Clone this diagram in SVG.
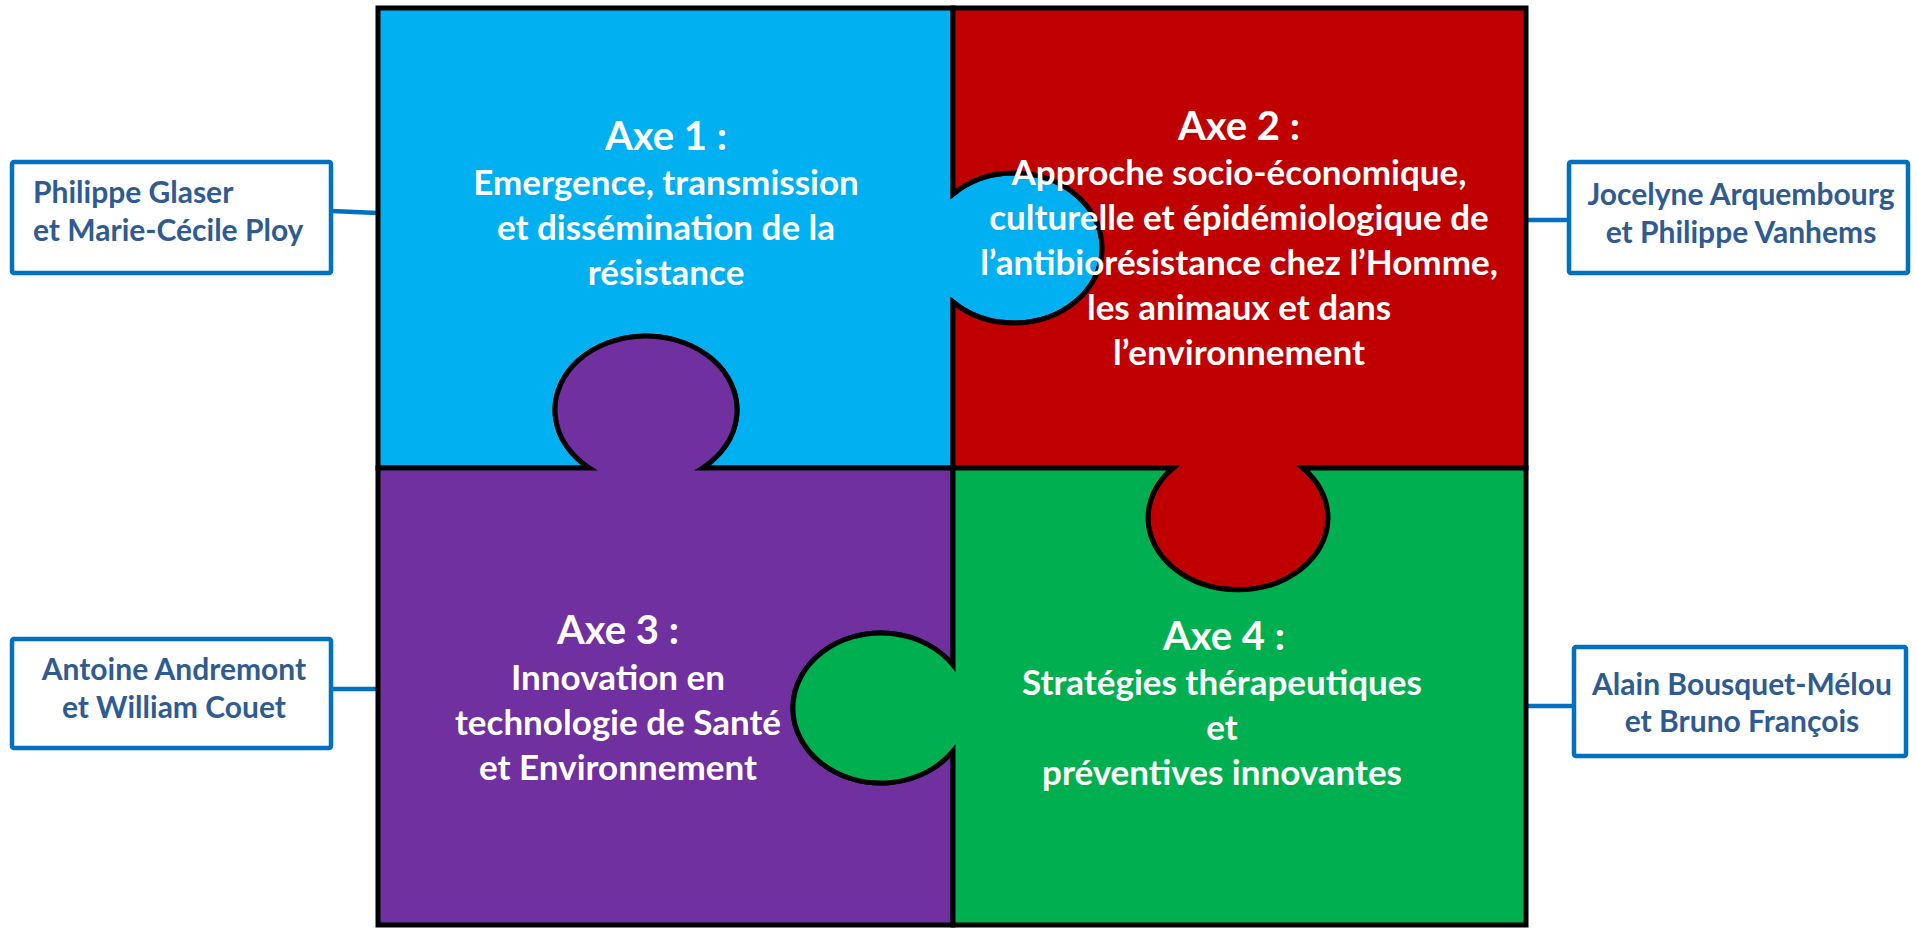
<svg xmlns="http://www.w3.org/2000/svg" width="1917" height="929" viewBox="0 0 1917 929">
<style>
.piece{stroke:#000;stroke-width:5;stroke-linejoin:miter}
.ax{font-family:Lato,"Liberation Sans",sans-serif;font-weight:bold;fill:#fff;text-anchor:middle}
.h{font-size:40px}
.b{font-size:35px}
.box{fill:#fff;stroke:#0070C0;stroke-width:4.5}
.nm{font-family:Lato,"Liberation Sans",sans-serif;font-weight:bold;font-size:30px;fill:#2F5B91}
.conn{stroke:#0070C0;stroke-width:4.5;fill:none}
</style>
<rect width="1917" height="929" fill="#fff"/>
<g id="connectors">
<line class="conn" x1="331" y1="211" x2="378" y2="213"/>
<line class="conn" x1="1526" y1="220" x2="1569" y2="220"/>
<line class="conn" x1="331" y1="689" x2="378" y2="689"/>
<line class="conn" x1="1526" y1="706" x2="1574" y2="706"/>
</g>
<g id="axe1">
<path class="piece" fill="#00B0F0" d="M378,8 H953 V194 A88,75 0 1 1 953,302 V468 H702.5 A91,74 0 1 0 589.5,468 H378 Z"/>
<text class="ax h" x="666" y="150">Axe 1 :</text>
<text class="ax b" x="666" y="195">Emergence, transmission</text>
<text class="ax b" x="666" y="240">et dissémination de la</text>
<text class="ax b" x="666" y="285">résistance</text>
</g>
<g id="axe2">
<path class="piece" fill="#C00000" d="M953,8 H1526 V468 H1303 A90,72 0 1 1 1173,468 H953 V302 A88,75 0 1 0 953,194 Z"/>
<text class="ax h" x="1239" y="140">Axe 2 :</text>
<text class="ax b" x="1239" y="185">Approche socio-économique,</text>
<text class="ax b" x="1239" y="230">culturelle et épidémiologique de</text>
<text class="ax b" x="1239" y="275">l’antibiorésistance chez l’Homme,</text>
<text class="ax b" x="1239" y="320">les animaux et dans</text>
<text class="ax b" x="1239" y="365">l’environnement</text>
</g>
<g id="axe3">
<path class="piece" fill="#7030A0" d="M378,468 H589.5 A91,74 0 1 1 702.5,468 H953 V665 A88,75 0 1 0 953,751 V925 H378 Z"/>
<text class="ax h" x="618" y="644">Axe 3 :</text>
<text class="ax b" x="618" y="690">Innovation en</text>
<text class="ax b" x="618" y="735">technologie de Santé</text>
<text class="ax b" x="618" y="780">et Environnement</text>
</g>
<g id="axe4">
<path class="piece" fill="#00B050" d="M953,468 H1173 A90,72 0 1 0 1303,468 H1526 V925 H953 V751 A88,75 0 1 1 953,665 Z"/>
<text class="ax h" x="1224" y="650">Axe 4 :</text>
<text class="ax b" x="1222" y="695">Stratégies thérapeutiques</text>
<text class="ax b" x="1222" y="740">et</text>
<text class="ax b" x="1222" y="785">préventives innovantes</text>
</g>
<g id="lead1">
<rect class="box" x="12" y="162" width="319" height="111" rx="2"/>
<text class="nm" x="33" y="203">Philippe Glaser</text>
<text class="nm" x="33" y="241">et Marie-Cécile Ploy</text>
</g>
<g id="lead2">
<rect class="box" x="1569" y="162" width="339" height="111" rx="2"/>
<text class="nm" x="1741" y="205" text-anchor="middle">Jocelyne Arquembourg</text>
<text class="nm" x="1741" y="243" text-anchor="middle">et Philippe Vanhems</text>
</g>
<g id="lead3">
<rect class="box" x="12" y="639" width="319" height="109" rx="2"/>
<text class="nm" x="174" y="680" text-anchor="middle">Antoine Andremont</text>
<text class="nm" x="174" y="718" text-anchor="middle">et William Couet</text>
</g>
<g id="lead4">
<rect class="box" x="1574" y="647" width="332" height="109" rx="2"/>
<text class="nm" x="1742" y="695" text-anchor="middle">Alain Bousquet-Mélou</text>
<text class="nm" x="1742" y="732" text-anchor="middle">et Bruno François</text>
</g>
</svg>
